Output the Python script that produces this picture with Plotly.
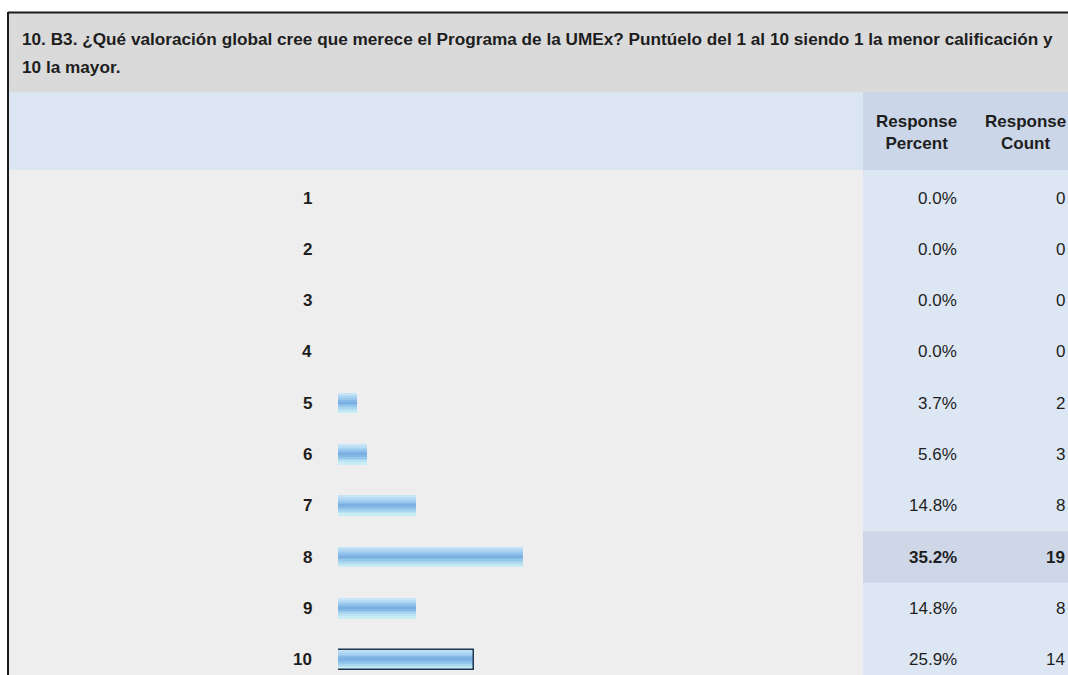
import plotly.graph_objects as go

# ---- data ----
categories = ["1", "2", "3", "4", "5", "6", "7", "8", "9", "10"]
percents = [0.0, 0.0, 0.0, 0.0, 3.7, 5.6, 14.8, 35.2, 14.8, 25.9]
counts = [0, 0, 0, 0, 2, 3, 8, 19, 8, 14]
title_lines = [
    "10. B3. ¿Qué valoración global cree que merece el Programa de la UMEx? Puntúelo del 1 al 10 siendo 1 la menor calificación y",
    "10 la mayor.",
]
col_headers = ["Response<br>Percent", "Response<br>Count"]

# ---- layout constants (pixels) ----
W, H = 1068, 675
FONT = "Liberation Sans, Arial, sans-serif"
TXT = "#1e1e1e"


def fx(x):
    return x / W


def fy(y):
    return 1 - y / H


ROW0, ROWH = 198.0, 51.3
BAR_X0, PX_PER_PCT = 338.0, 5.25
COL_SPLIT = 863.0

fig = go.Figure()

# gradient bar made of stacked stripes (top -> bottom)
stripe_colors = ["#c6e4f8", "#b9dcf5", "#aad3f2", "#99c8ee", "#86b9e7", "#7aafe2",
                 "#84b9e6", "#96c8eb", "#a9d6ef", "#bae2f2", "#c8edf4"]
bar_w = 20.0 / ROWH
n = len(stripe_colors)
for k, c in enumerate(stripe_colors):
    fig.add_trace(go.Bar(
        x=percents, y=categories, orientation="h",
        width=bar_w / n + 0.003, offset=-bar_w / 2 + k * bar_w / n,
        marker=dict(color=c, line=dict(width=0)),
        hoverinfo="skip", showlegend=False,
    ))
# outline on last bar
fig.add_trace(go.Bar(
    x=percents, y=categories, orientation="h",
    width=bar_w, offset=-bar_w / 2,
    marker=dict(color="rgba(0,0,0,0)",
                line=dict(color="#1f3550", width=[0] * (len(percents) - 1) + [1.5])),
    hoverinfo="skip", showlegend=False,
))

shapes = []
def rect(x0, y0, x1, y1, color):
    shapes.append(dict(type="rect", xref="paper", yref="paper",
                       x0=fx(x0), x1=fx(x1), y0=fy(y1), y1=fy(y0),
                       fillcolor=color, line=dict(width=0), layer="below"))

rect(9, 13, W, 92, "#dadada")          # title band
rect(9, 92, COL_SPLIT, 170, "#dce6f2")  # header left
rect(COL_SPLIT, 92, W, 170, "#cbd7e8")  # header right
rect(9, 170, COL_SPLIT, H, "#eeeeee")   # data left
rect(COL_SPLIT, 170, W, H, "#dde7f3")   # data right

imax = max(range(len(percents)), key=lambda i: percents[i])
shapes.append(dict(type="rect", xref="paper", yref="y",
                   x0=fx(COL_SPLIT), x1=1, y0=imax - 0.5, y1=imax + 0.5,
                   fillcolor="#cdd7e8", line=dict(width=0), layer="below"))
# outer border
shapes.append(dict(type="line", xref="paper", yref="paper", x0=fx(8), x1=1,
                   y0=fy(12.5), y1=fy(12.5), line=dict(color="#1a1a1a", width=2)))
shapes.append(dict(type="line", xref="paper", yref="paper", x0=fx(8), x1=fx(8),
                   y0=fy(12), y1=0, line=dict(color="#1a1a1a", width=2)))

ann = []
ann.append(dict(xref="paper", yref="paper", x=fx(20), y=fy(39), xanchor="left", yanchor="middle",
                text="<b>" + title_lines[0] + "</b>", showarrow=False,
                font=dict(family=FONT, size=17.2, color=TXT)))
ann.append(dict(xref="paper", yref="paper", x=fx(20), y=fy(67), xanchor="left", yanchor="middle",
                text="<b>" + title_lines[1] + "</b>", showarrow=False,
                font=dict(family=FONT, size=17.2, color=TXT)))
for cx, t in zip([916, 1025], col_headers):
    ann.append(dict(xref="paper", yref="paper", x=fx(cx), y=fy(133), xanchor="center", yanchor="middle",
                    text="<b>" + t + "</b>", showarrow=False, align="center",
                    font=dict(family=FONT, size=17, color=TXT)))

for i, (cat, p, c) in enumerate(zip(categories, percents, counts)):
    bold = i == imax
    ptxt = f"{p:.1f}%"
    ctxt = str(c)
    if bold:
        ptxt, ctxt = f"<b>{ptxt}</b>", f"<b>{ctxt}</b>"
    ann.append(dict(xref="paper", yref="y", x=fx(314), y=i, xanchor="right", yanchor="middle",
                    text=f"<b>{cat}</b>", showarrow=False, font=dict(family=FONT, size=17, color=TXT)))
    ann.append(dict(xref="paper", yref="y", x=fx(959), y=i, xanchor="right", yanchor="middle",
                    text=ptxt, showarrow=False, font=dict(family=FONT, size=17, color=TXT)))
    ann.append(dict(xref="paper", yref="y", x=fx(1067), y=i, xanchor="right", yanchor="middle",
                    text=ctxt, showarrow=False, font=dict(family=FONT, size=17, color=TXT)))

fig.update_layout(
    width=W, height=H,
    margin=dict(l=0, r=0, t=0, b=0),
    paper_bgcolor="white", plot_bgcolor="rgba(0,0,0,0)",
    barmode="overlay", bargap=0,
    shapes=shapes, annotations=ann,
    xaxis=dict(domain=[fx(BAR_X0), 1], range=[0, (W - BAR_X0) / PX_PER_PCT],
               visible=False, fixedrange=True),
    yaxis=dict(type="category", categoryorder="array", categoryarray=categories,
               domain=[0, 1],
               range=[(H - ROW0) / ROWH, -ROW0 / ROWH],
               visible=False, fixedrange=True),
    showlegend=False,
)

fig.write_html("out.html", config={"displayModeBar": False},
               post_script="document.body.style.margin='0';document.body.style.overflow='hidden';")
